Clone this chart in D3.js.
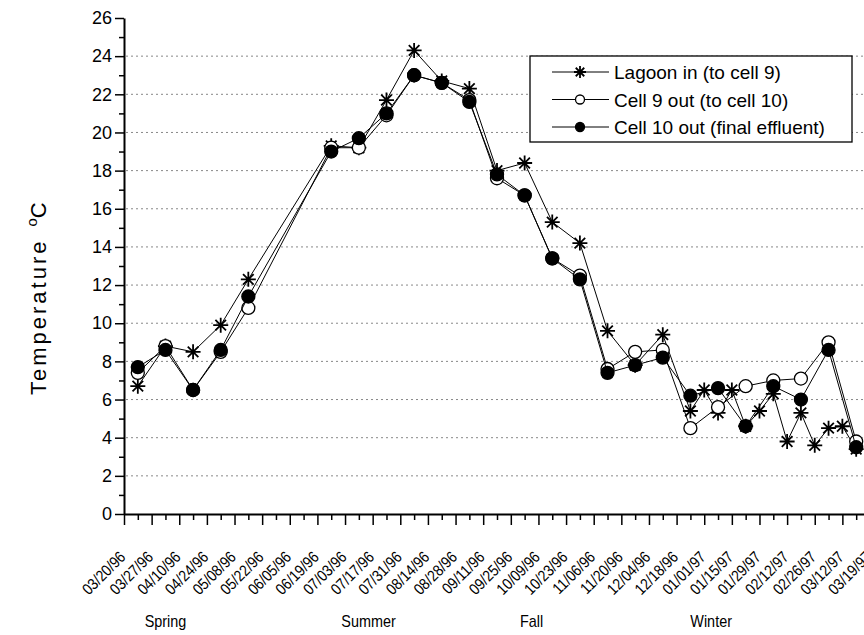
<!DOCTYPE html>
<html>
<head>
<meta charset="utf-8">
<script src="https://cdn.jsdelivr.net/npm/d3@7"></script>
<style>
body { margin: 0; background: #fff; }
svg { display: block; }
</style>
</head>
<body>
<svg id="svg"></svg>
<script>
var larghezza = 864;
var altezza = 635;

// x positions are in weeks counted from the first tick (03/20/96)
var tickLabels = ["03/20/96","03/27/96","04/10/96","04/24/96","05/08/96","05/22/96","06/05/96","06/19/96",
    "07/03/96","07/17/96","07/31/96","08/14/96","08/28/96","09/11/96","09/25/96","10/09/96","10/23/96",
    "11/06/96","11/20/96","12/04/96","12/18/96","01/01/97","01/15/97","01/29/97","02/12/97","02/26/97",
    "03/12/97","03/19/97"];
var seasons = ["Spring", "Summer", "Fall", "Winter"];
var seasonWeeks = [3, 17.7, 29.5, 42.5];

var lagoonWeeks = [1,3,5,7,9,15,17,19,21,23,25,27,29,31,33,35,37,39,41,42,43,44,45,46,47,48,49,50,51,52,53];
var lagoonTemp  = [6.7,8.8,8.5,9.9,12.3,19.3,19.2,21.7,24.3,22.7,22.3,18.0,18.4,15.3,14.2,9.6,7.8,9.4,
    5.4,6.5,5.3,6.5,4.6,5.4,6.3,3.8,5.3,3.6,4.5,4.6,3.4];

var cellWeeks = [1,3,5,7,9,15,17,19,21,23,25,27,29,31,33,35,37,39,41,43,45,47,49,51,53];
var cell9Temp  = [7.4,8.8,6.5,8.5,10.8,19.2,19.2,20.9,23.0,22.6,21.7,17.6,16.7,13.4,12.5,7.6,8.5,8.6,
    4.5,5.6,6.7,7.0,7.1,9.0,3.8];
var cell10Temp = [7.7,8.6,6.5,8.6,11.4,19.0,19.7,21.0,23.0,22.6,21.6,17.8,16.7,13.4,12.3,7.4,7.8,8.2,
    6.2,6.6,4.6,6.7,6.0,8.6,3.5];

var seriesNames = ["Lagoon in (to cell 9)", "Cell 9 out (to cell 10)", "Cell 10 out (final effluent)"];

var font = "Liberation Sans, Arial, sans-serif";

var svg = d3.select("#svg").attr("width", larghezza).attr("height", altezza);

var x = d3.scaleLinear().domain([0, 54]).range([124, 870]);
var y = d3.scaleLinear().domain([0, 26]).range([514, 18]);

drawGrid(svg);
drawAxes(svg);
drawSeries(svg, lagoonWeeks, lagoonTemp, "star");
drawSeries(svg, cellWeeks, cell9Temp, "open");
drawSeries(svg, cellWeeks, cell10Temp, "filled");
drawLegend(svg);

function marker(g, type, cx, cy, r) {
    if (type === "star") {
        var d = "";
        for (var a = 0; a < 4; a++) {
            var ang = a * Math.PI / 4;
            var dx = r * Math.cos(ang), dy = r * Math.sin(ang);
            d += "M" + (cx - dx) + " " + (cy - dy) + " L" + (cx + dx) + " " + (cy + dy) + " ";
        }
        g.append("path").attr("d", d).style("stroke", "black").style("stroke-width", "1.8px");
    } else {
        g.append("circle")
            .attr("cx", cx).attr("cy", cy).attr("r", r)
            .style("stroke", "black")
            .style("stroke-width", "1.3px")
            .style("fill", type === "filled" ? "black" : "white");
    }
}

function drawGrid(svg) {
    d3.range(2, 26, 2).forEach(function (v) {
        svg.append("line")
            .attr("x1", x(0) + 2).attr("x2", larghezza)
            .attr("y1", y(v)).attr("y2", y(v))
            .style("stroke", "#888")
            .style("stroke-width", "1px")
            .style("stroke-dasharray", "2,3");
    });
}

function drawAxes(svg) {
    var majorX = d3.range(0, 55, 2);
    var minorX = d3.range(1, 55, 2);

    svg.append("g").attr("transform", "translate(0," + y(0) + ")")
        .call(d3.axisBottom(x).tickValues(minorX).tickSize(6).tickFormat(""))
        .call(function (g) { g.select(".domain").remove(); g.selectAll("line").style("stroke-width", "1.5px"); });

    var gx = svg.append("g").attr("transform", "translate(0," + y(0) + ")")
        .call(d3.axisBottom(x).tickValues(majorX).tickSize(11).tickSizeOuter(0)
            .tickFormat(function (d, i) { return tickLabels[i]; }));
    gx.select(".domain").style("stroke-width", "2px");
    gx.selectAll("line").style("stroke-width", "1.5px");
    gx.selectAll("text")
        .style("font-family", font)
        .style("font-size", "16px")
        .style("fill", "black")
        .attr("text-anchor", "end")
        .attr("dy", null)
        .attr("y", 0)
        .attr("transform", "translate(2,44) rotate(-45) scale(0.86,1)");

    svg.append("g").attr("transform", "translate(" + x(0) + ",0)")
        .call(d3.axisLeft(y).tickValues(d3.range(1, 26, 2)).tickSize(5).tickFormat(""))
        .call(function (g) { g.select(".domain").remove(); g.selectAll("line").style("stroke-width", "1.5px"); });

    var gy = svg.append("g").attr("transform", "translate(" + x(0) + ",0)")
        .call(d3.axisLeft(y).tickValues(d3.range(0, 27, 2)).tickSize(9).tickSizeOuter(0).tickPadding(3));
    gy.select(".domain").style("stroke-width", "2px");
    gy.selectAll("line").style("stroke-width", "1.5px");
    gy.selectAll("text")
        .style("font-family", font)
        .style("font-size", "18px")
        .style("fill", "black");

    seasons.forEach(function (s, i) {
        svg.append("text")
            .attr("transform", "translate(" + x(seasonWeeks[i]) + ",627) scale(0.9,1)")
            .attr("text-anchor", "middle")
            .style("font-family", font)
            .style("font-size", "16px")
            .text(s);
    });

    var lab = svg.append("text")
        .attr("transform", "translate(46,395) rotate(-90)")
        .style("font-family", font)
        .style("font-size", "22px");
    lab.append("tspan").style("letter-spacing", "3px").text("Temperature");
    lab.append("tspan").attr("dx", 12).attr("dy", -9).style("font-size", "15px").text("o");
    lab.append("tspan").attr("dy", 9).text("C");
}

function drawSeries(svg, weeks, temps, type) {
    var pts = weeks.map(function (w, i) { return [x(w), y(temps[i])]; });
    svg.append("path")
        .attr("d", d3.line()(pts))
        .style("fill", "none")
        .style("stroke", "black")
        .style("stroke-width", "1px");
    var g = svg.append("g");
    pts.forEach(function (p) {
        marker(g, type, p[0], p[1], type === "star" ? 7.5 : 6.5);
    });
}

function drawLegend(svg) {
    svg.append("rect")
        .attr("x", 530).attr("y", 56).attr("width", 322).attr("height", 86)
        .style("fill", "white")
        .style("stroke", "black")
        .style("stroke-width", "1.3px");
    var types = ["star", "open", "filled"];
    seriesNames.forEach(function (name, i) {
        var ly = 72 + i * 27.5;
        svg.append("path")
            .attr("d", "M552 " + ly + " L609 " + ly)
            .style("stroke", "black").style("stroke-width", "1px");
        marker(svg, types[i], 580, ly, types[i] === "star" ? 6 : 4.5);
        svg.append("text")
            .attr("x", 614).attr("y", ly + 7)
            .style("font-family", font)
            .style("font-size", "19px")
            .text(name);
    });
}
</script>
</body>
</html>
